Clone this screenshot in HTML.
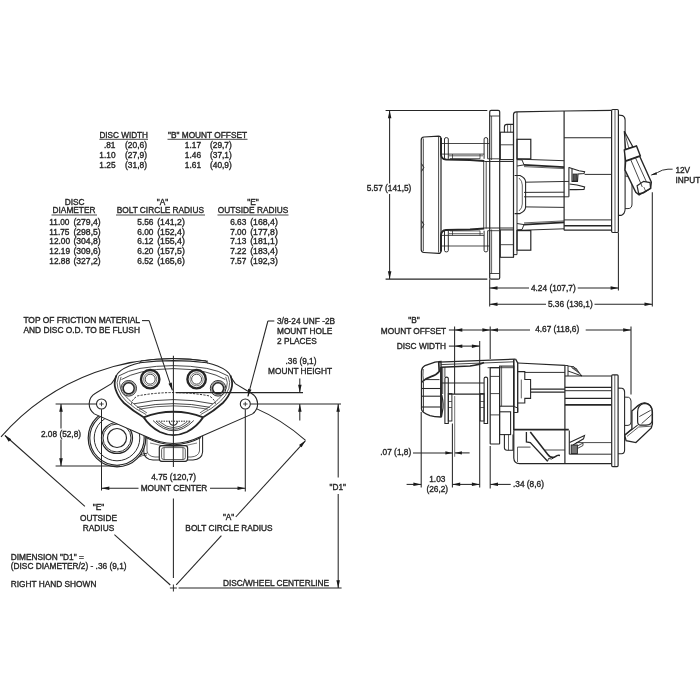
<!DOCTYPE html>
<html><head><meta charset="utf-8"><title>Caliper Drawing</title>
<style>
html,body{margin:0;padding:0;background:#fff;}
body{width:700px;height:700px;overflow:hidden;}
svg{display:block;will-change:transform;opacity:0.999;}
svg text{font-family:"Liberation Sans",sans-serif;font-size:8.3px;fill:#262626;stroke:#262626;stroke-width:0.35px;}
svg .ah{fill:#1a1a1a;stroke:none;}
</style></head><body>
<svg width="700" height="700" viewBox="0 0 700 700">
<g fill="none" stroke="#262626" stroke-width="1.05">
<text x="99.4" y="137.7" textLength="48.6" lengthAdjust="spacingAndGlyphs">DISC WIDTH</text>
<line x1="99.4" y1="139.3" x2="148.0" y2="139.3" stroke-width="0.84"/>
<text x="168.0" y="137.7">&quot;B&quot; MOUNT OFFSET</text>
<line x1="167.5" y1="139.3" x2="247.5" y2="139.3" stroke-width="0.84"/>
<text x="115.5" y="148.4" text-anchor="end">.81</text>
<text x="125.0" y="148.4" textLength="22.0" lengthAdjust="spacingAndGlyphs">(20,6)</text>
<text x="201.0" y="148.4" text-anchor="end">1.17</text>
<text x="210.0" y="148.4" textLength="21.8" lengthAdjust="spacingAndGlyphs">(29,7)</text>
<text x="115.5" y="158.1" text-anchor="end">1.10</text>
<text x="125.0" y="158.1" textLength="22.0" lengthAdjust="spacingAndGlyphs">(27,9)</text>
<text x="201.0" y="158.1" text-anchor="end">1.46</text>
<text x="210.0" y="158.1" textLength="21.8" lengthAdjust="spacingAndGlyphs">(37,1)</text>
<text x="115.5" y="167.8" text-anchor="end">1.25</text>
<text x="125.0" y="167.8" textLength="22.0" lengthAdjust="spacingAndGlyphs">(31,8)</text>
<text x="201.0" y="167.8" text-anchor="end">1.61</text>
<text x="210.0" y="167.8" textLength="21.8" lengthAdjust="spacingAndGlyphs">(40,9)</text>
<text x="74.6" y="205.0" text-anchor="middle">DISC</text>
<text x="74.0" y="213.3" text-anchor="middle">DIAMETER</text>
<line x1="51.5" y1="215.0" x2="97.0" y2="215.0" stroke-width="0.84"/>
<text x="162.5" y="205.0" text-anchor="middle">&quot;A&quot;</text>
<text x="160.3" y="213.3" text-anchor="middle">BOLT CIRCLE RADIUS</text>
<line x1="116.0" y1="215.0" x2="205.0" y2="215.0" stroke-width="0.84"/>
<text x="253.0" y="205.0" text-anchor="middle">&quot;E&quot;</text>
<text x="253.0" y="213.3" text-anchor="middle">OUTSIDE RADIUS</text>
<line x1="217.5" y1="215.0" x2="288.5" y2="215.0" stroke-width="0.84"/>
<text x="49.3" y="224.8">11.00</text>
<text x="73.4" y="224.8" textLength="27.3" lengthAdjust="spacingAndGlyphs">(279,4)</text>
<text x="137.3" y="224.8">5.56</text>
<text x="157.2" y="224.8" textLength="27.6" lengthAdjust="spacingAndGlyphs">(141,2)</text>
<text x="230.2" y="224.8">6.63</text>
<text x="250.2" y="224.8" textLength="27.6" lengthAdjust="spacingAndGlyphs">(168,4)</text>
<text x="49.3" y="234.5">11.75</text>
<text x="73.4" y="234.5" textLength="27.3" lengthAdjust="spacingAndGlyphs">(298,5)</text>
<text x="137.3" y="234.5">6.00</text>
<text x="157.2" y="234.5" textLength="27.6" lengthAdjust="spacingAndGlyphs">(152,4)</text>
<text x="230.2" y="234.5">7.00</text>
<text x="250.2" y="234.5" textLength="27.6" lengthAdjust="spacingAndGlyphs">(177,8)</text>
<text x="49.3" y="244.2">12.00</text>
<text x="73.4" y="244.2" textLength="27.3" lengthAdjust="spacingAndGlyphs">(304,8)</text>
<text x="137.3" y="244.2">6.12</text>
<text x="157.2" y="244.2" textLength="27.6" lengthAdjust="spacingAndGlyphs">(155,4)</text>
<text x="230.2" y="244.2">7.13</text>
<text x="250.2" y="244.2" textLength="27.6" lengthAdjust="spacingAndGlyphs">(181,1)</text>
<text x="49.3" y="254.0">12.19</text>
<text x="73.4" y="254.0" textLength="27.3" lengthAdjust="spacingAndGlyphs">(309,6)</text>
<text x="137.3" y="254.0">6.20</text>
<text x="157.2" y="254.0" textLength="27.6" lengthAdjust="spacingAndGlyphs">(157,5)</text>
<text x="230.2" y="254.0">7.22</text>
<text x="250.2" y="254.0" textLength="27.6" lengthAdjust="spacingAndGlyphs">(183,4)</text>
<text x="49.3" y="263.7">12.88</text>
<text x="73.4" y="263.7" textLength="27.3" lengthAdjust="spacingAndGlyphs">(327,2)</text>
<text x="137.3" y="263.7">6.52</text>
<text x="157.2" y="263.7" textLength="27.6" lengthAdjust="spacingAndGlyphs">(165,6)</text>
<text x="230.2" y="263.7">7.57</text>
<text x="250.2" y="263.7" textLength="27.6" lengthAdjust="spacingAndGlyphs">(192,3)</text>
<text x="23.4" y="323.4" textLength="116.6" lengthAdjust="spacingAndGlyphs">TOP OF FRICTION MATERIAL</text>
<text x="23.4" y="332.9" textLength="116.6" lengthAdjust="spacingAndGlyphs">AND DISC O.D. TO BE FLUSH</text>
<text x="277.0" y="324.0">3/8-24 UNF -2B</text>
<text x="277.0" y="333.8">MOUNT HOLE</text>
<text x="277.0" y="343.8">2 PLACES</text>
<text x="301.0" y="364.0" text-anchor="middle">.36 (9,1)</text>
<text x="300.0" y="373.8" text-anchor="middle">MOUNT HEIGHT</text>
<text x="61.0" y="437.0" text-anchor="middle">2.08 (52,8)</text>
<text x="173.6" y="480.0" text-anchor="middle">4.75 (120,7)</text>
<text x="174.0" y="490.8" text-anchor="middle">MOUNT CENTER</text>
<text x="98.5" y="510.0" text-anchor="middle">&quot;E&quot;</text>
<text x="98.5" y="520.8" text-anchor="middle">OUTSIDE</text>
<text x="98.5" y="530.7" text-anchor="middle">RADIUS</text>
<text x="228.6" y="519.5" text-anchor="middle">&quot;A&quot;</text>
<text x="229.0" y="530.6" text-anchor="middle">BOLT CIRCLE RADIUS</text>
<text x="10.8" y="559.5">DIMENSION &quot;D1&quot; =</text>
<text x="10.8" y="568.9">(DISC DIAMETER/2) - .36 (9,1)</text>
<text x="10.8" y="586.8">RIGHT HAND SHOWN</text>
<text x="222.9" y="585.7">DISC/WHEEL CENTERLINE</text>
<text x="337.8" y="490.0" text-anchor="middle">&quot;D1&quot;</text>
<text x="389.0" y="191.0" text-anchor="middle">5.57 (141,5)</text>
<text x="553.3" y="290.9" text-anchor="middle">4.24 (107,7)</text>
<text x="570.3" y="307.1" text-anchor="middle">5.36 (136,1)</text>
<text x="675.4" y="173.3">12V</text>
<text x="675.4" y="182.8">INPUT</text>
<text x="414.0" y="322.6" text-anchor="middle">&quot;B&quot;</text>
<text x="446.1" y="333.5" text-anchor="end">MOUNT OFFSET</text>
<text x="446.1" y="349.3" text-anchor="end">DISC WIDTH</text>
<text x="557.2" y="332.2" text-anchor="middle">4.67 (118,6)</text>
<text x="411.2" y="455.3" text-anchor="end">.07 (1,8)</text>
<text x="437.3" y="482.2" text-anchor="middle">1.03</text>
<text x="437.3" y="492.2" text-anchor="middle">(26,2)</text>
<text x="513.0" y="486.8">.34 (8,6)</text>
<path d="M1,436.9 A228.9,228.9 0 0 1 208,361.2"/>
<path d="M245.3,404 A197.0,197.0 0 0 1 305.6,440.4"/>
<path d="M143.8,430 L143.8,452 Q144.5,459.5 153,460 L193,460 Q202,459.5 202.6,452 L202.6,430 Z" fill="#fff"/>
<path d="M147,436 L147,451 Q148,456.5 155,457 L191,457 Q198.5,456.5 199.5,451 L199.5,436" stroke-width="0.72"/>
<rect x="159.3" y="445.6" width="28.3" height="15.7" rx="2.5" stroke-width="1.20" fill="#fff"/>
<rect x="161.6" y="447.6" width="23.7" height="11.9" rx="2" stroke-width="0.72"/>
<line x1="164.0" y1="447.6" x2="164.0" y2="459.5" stroke-width="0.72"/>
<line x1="183.0" y1="447.6" x2="183.0" y2="459.5" stroke-width="0.72"/>
<path d="M146,437.5 Q173.4,452 201,437.5" stroke-width="1.08"/>
<path d="M150,443 Q173.4,450 197,443" stroke-width="0.60"/>
<circle cx="117.0" cy="438.0" r="28.8" stroke-width="1.20" fill="#fff"/>
<circle cx="117.0" cy="438.0" r="27.2" stroke-width="1.08"/>
<circle cx="117.0" cy="438.0" r="22.8" stroke-width="0.96"/>
<circle cx="117.0" cy="438.0" r="15.5" stroke-width="1.20"/>
<circle cx="117.0" cy="438.0" r="14.0" stroke-width="0.96"/>
<circle cx="117.0" cy="438.0" r="9.5" stroke-width="1.20"/>
<path d="M139.5,455.6 Q142,453.6 147,453.2" stroke-width="0.96"/>
<path d="M138.5,457.2 Q142,455.2 147,455" stroke-width="0.72"/>
<path d="M173.4,360.6 Q156,360.7 140,362.8 Q128,365.6 121,370.4 Q116.6,373.6 115.7,377.5 L111.5,383.6 L95.5,393.2 A12.3,12.3 0 0 0 94.3,413.9 L147.1,437.1 Q173.4,450 199.7,437.1 L252.5,413.9 A12.3,12.3 0 0 0 251.3,393.2 L235.3,383.6 L231.1,377.5 Q230.2,373.6 225.8,370.4 Q218.8,365.6 206.8,362.8 Q190.8,360.7 173.4,360.6 Z" stroke-width="1.08" fill="#fff"/>
<path d="M139.7,363.3 L141,360.9 A228.9,228.9 0 0 1 206,360.9 L207.5,363.4" stroke-width="0.96"/>
<path d="M116.3,375.5 Q113.5,383 115.5,389 Q118.0,397 124.0,403 Q133.0,411 143.6,417.3" stroke-width="1.80"/>
<path d="M230.5,375.5 Q233.3,383 231.3,389 Q228.8,397 222.8,403 Q213.8,411 203.2,417.3" stroke-width="1.80"/>
<path d="M143.6,417.3 Q158,411.8 173.4,411.8 Q189,411.8 203.2,417.3" stroke-width="1.92"/>
<path d="M143.6,417.3 Q150,427 160,432 Q173.4,438.2 186.8,432 Q196.8,427 203.2,417.3" stroke-width="1.92"/>
<path d="M118.7,376.2 Q115.9,383 117.9,388.3 Q120.4,395.8 126.4,401.3 Q134.9,409.1 146.2,414.6" stroke-width="0.72"/>
<path d="M228.1,376.2 Q230.9,383 228.9,388.3 Q226.4,395.8 220.4,401.3 Q211.9,409.1 200.6,414.6" stroke-width="0.72"/>
<path d="M121.1,376.9 Q118.3,383 120.3,387.6 Q122.8,394.6 128.8,399.6 Q136.8,407.2 146.9,412.9" stroke-width="0.72"/>
<path d="M225.7,376.9 Q228.5,383 226.5,387.6 Q224.0,394.6 218.0,399.6 Q210.0,407.2 199.9,412.9" stroke-width="0.72"/>
<path d="M118.6,376 Q128,370.5 140,368.4 Q156,365.7 173.4,365.6 Q190.8,365.7 206.8,368.4 Q218.8,370.5 228.2,376" stroke-width="0.84"/>
<path d="M121.5,379.5 Q130,374.6 141.4,372 Q156,368.7 173.4,368.6 Q190.8,368.7 205.4,372 Q216.8,374.6 225.3,379.5" stroke-width="0.84"/>
<path d="M131.6,404.5 Q131,400.2 137.5,395.9 A194.9,194.9 0 0 1 209.3,395.9 Q215.8,400.2 215.2,404.5" stroke-width="0.96" stroke-dasharray="2.2 1.3"/>
<path d="M134,403.8 A188.2,188.2 0 0 1 212.8,403.8" stroke-width="0.84"/>
<path d="M137,407.3 A184.1,184.1 0 0 1 209.8,407.3" stroke-width="0.84"/>
<path d="M139,409.2 A181.9,181.9 0 0 1 207.8,409.2" stroke-width="0.72"/>
<path d="M156,421.2 L190.8,421.2" stroke-width="0.96" stroke-dasharray="1.5 1"/>
<path d="M153,420.5 Q173.4,441 193.8,420.5" stroke-width="0.84"/>
<path d="M156.5,421.5 Q173.4,437 190.3,421.5" stroke-width="0.84"/>
<path d="M160,422 Q173.4,433.3 186.8,422" stroke-width="0.72"/>
<path d="M169.4,421.2 A4,4 0 0 0 177.4,421.2" stroke-width="1.08"/>
<circle cx="128.7" cy="388.3" r="7.8" stroke-width="0.96" fill="#fff"/>
<circle cx="128.7" cy="388.3" r="5.5" stroke-width="1.44"/>
<circle cx="128.7" cy="388.3" r="6.6" stroke-width="0.60"/>
<circle cx="218.1" cy="388.3" r="7.8" stroke-width="0.96" fill="#fff"/>
<circle cx="218.1" cy="388.3" r="5.5" stroke-width="1.44"/>
<circle cx="218.1" cy="388.3" r="6.6" stroke-width="0.60"/>
<circle cx="150.2" cy="379.2" r="9.2" stroke-width="2.40" fill="#fff"/>
<circle cx="150.2" cy="379.2" r="5.0" stroke-width="0.84"/>
<circle cx="150.2" cy="379.2" r="6.6" stroke-width="0.60"/>
<circle cx="196.6" cy="379.2" r="9.2" stroke-width="2.40" fill="#fff"/>
<circle cx="196.6" cy="379.2" r="5.0" stroke-width="0.84"/>
<circle cx="196.6" cy="379.2" r="6.6" stroke-width="0.60"/>
<circle cx="101.5" cy="404.0" r="5.0" stroke-width="1.08" fill="#fff"/>
<line x1="99.3" y1="404.0" x2="103.7" y2="404.0" stroke-width="0.84"/>
<line x1="101.5" y1="401.8" x2="101.5" y2="406.2" stroke-width="0.84"/>
<circle cx="245.3" cy="404.0" r="5.0" stroke-width="1.08" fill="#fff"/>
<line x1="243.1" y1="404.0" x2="247.5" y2="404.0" stroke-width="0.84"/>
<line x1="245.3" y1="401.8" x2="245.3" y2="406.2" stroke-width="0.84"/>
<line x1="173.4" y1="355.7" x2="173.4" y2="467.0"/>
<line x1="173.4" y1="498.5" x2="173.4" y2="578.0"/>
<line x1="169.9" y1="588.0" x2="176.9" y2="588.0" stroke-width="0.96"/>
<line x1="173.4" y1="584.5" x2="173.4" y2="591.5" stroke-width="0.96"/>
<line x1="178.6" y1="588.0" x2="341.6" y2="588.0"/>
<line x1="338.2" y1="404.0" x2="338.2" y2="477.5"/>
<line x1="338.2" y1="494.0" x2="338.2" y2="588.0"/>
<polygon class="ah" points="338.2,404.0 339.9,411.8 336.4,411.8"/>
<polygon class="ah" points="338.2,588.0 336.4,580.2 339.9,580.2"/>
<line x1="250.5" y1="404.0" x2="341.0" y2="404.0"/>
<line x1="176.0" y1="392.6" x2="303.0" y2="392.6"/>
<line x1="299.8" y1="378.4" x2="299.8" y2="392.6"/>
<polygon class="ah" points="299.8,392.6 298.1,384.8 301.6,384.8"/>
<line x1="299.8" y1="404.0" x2="299.8" y2="420.5"/>
<polygon class="ah" points="299.8,404.0 301.6,411.8 298.1,411.8"/>
<line x1="55.6" y1="404.0" x2="96.3" y2="404.0"/>
<line x1="55.6" y1="466.0" x2="120.0" y2="466.0"/>
<line x1="61.0" y1="404.0" x2="61.0" y2="428.5"/>
<line x1="61.0" y1="439.5" x2="61.0" y2="466.0"/>
<polygon class="ah" points="61.0,404.0 62.8,411.8 59.2,411.8"/>
<polygon class="ah" points="61.0,466.0 59.2,458.2 62.8,458.2"/>
<line x1="101.5" y1="409.2" x2="101.5" y2="490.5"/>
<line x1="245.3" y1="409.2" x2="245.3" y2="491.5"/>
<line x1="101.5" y1="488.2" x2="138.5" y2="488.2"/>
<line x1="210.0" y1="488.2" x2="245.3" y2="488.2"/>
<polygon class="ah" points="101.5,488.2 109.3,486.4 109.3,489.9"/>
<polygon class="ah" points="245.3,488.2 237.5,489.9 237.5,486.4"/>
<line x1="5.0" y1="435.5" x2="84.9" y2="506.3"/>
<line x1="114.4" y1="534.6" x2="170.3" y2="585.0"/>
<polygon class="ah" points="4.5,435.0 11.2,439.3 8.7,441.8"/>
<line x1="176.2" y1="584.8" x2="221.4" y2="535.7"/>
<line x1="235.7" y1="517.0" x2="305.3" y2="440.8"/>
<polygon class="ah" points="305.6,440.4 301.6,447.3 299.0,445.0"/>
<line x1="142.0" y1="320.6" x2="149.1" y2="320.6"/>
<line x1="149.1" y1="320.6" x2="172.4" y2="390.3"/>
<polygon class="ah" points="172.5,390.6 168.5,383.7 171.8,382.6"/>
<line x1="274.3" y1="321.0" x2="267.9" y2="321.0"/>
<line x1="267.9" y1="321.0" x2="247.9" y2="396.3"/>
<polygon class="ah" points="247.8,396.8 248.1,388.8 251.5,389.7"/>
<line x1="385.6" y1="110.4" x2="487.3" y2="110.4"/>
<line x1="385.6" y1="279.1" x2="487.3" y2="279.1"/>
<line x1="389.6" y1="110.4" x2="389.6" y2="183.5"/>
<line x1="389.6" y1="194.0" x2="389.6" y2="279.1"/>
<polygon class="ah" points="389.6,110.4 391.4,118.2 387.9,118.2"/>
<polygon class="ah" points="389.6,279.1 387.9,271.3 391.4,271.3"/>
<rect x="489.7" y="110.3" width="10.0" height="168.9" rx="1.5" stroke-width="1.20" fill="#fff"/>
<line x1="489.7" y1="116.0" x2="499.7" y2="116.0" stroke-width="0.84"/>
<line x1="491.6" y1="116.0" x2="491.6" y2="160.0" stroke-width="0.72"/>
<line x1="489.7" y1="273.5" x2="499.7" y2="273.5" stroke-width="0.84"/>
<line x1="491.6" y1="273.5" x2="491.6" y2="229.5" stroke-width="0.72"/>
<path d="M421.2,140 Q421.2,137.2 424,137 L438.5,136.1 Q441,136.1 441,138.6 L441,250.9 Q441,253.4 438.5,253.4 L424,252.5 Q421.2,252.3 421.2,249.5 Z" stroke-width="1.20" fill="#fff"/>
<line x1="423.3" y1="138.5" x2="423.3" y2="251.0" stroke-width="0.84"/>
<line x1="438.6" y1="137.0" x2="438.6" y2="252.5" stroke-width="0.84"/>
<path d="M421.5,163.5 L423.8,167.5 L421.5,171.5" stroke-width="0.96"/>
<path d="M421.5,220.7 L423.8,224.7 L421.5,228.7" stroke-width="0.96"/>
<path d="M444.5,158.8 L444.5,139 Q444.5,137.6 446.4,137.6 Q448.3,137.6 448.3,139 L448.3,158.8" stroke-width="0.96"/>
<path d="M484.1,158.8 L484.1,139 Q484.1,137.6 485.9,137.6 Q487.7,137.6 487.7,139 L487.7,158.8" stroke-width="0.96"/>
<line x1="441.0" y1="143.5" x2="489.7" y2="143.5" stroke-width="0.84"/>
<line x1="441.0" y1="154.1" x2="484.1" y2="154.1" stroke-width="0.84"/>
<line x1="449.0" y1="155.8" x2="483.0" y2="155.8" stroke-width="0.72"/>
<line x1="452.5" y1="154.1" x2="452.5" y2="158.8" stroke-width="0.72"/>
<line x1="480.0" y1="154.1" x2="480.0" y2="158.8" stroke-width="0.72"/>
<line x1="450.0" y1="158.6" x2="480.0" y2="158.6" stroke-width="0.72"/>
<path d="M441,138 L441,154.5 Q441.3,159.2 446,159.5 L470,160 L484.3,161" stroke-width="1.92"/>
<line x1="484.3" y1="161.5" x2="514.0" y2="161.5" stroke-width="0.96"/>
<line x1="487.7" y1="158.8" x2="499.7" y2="158.8" stroke-width="0.84"/>
<rect x="500.3" y="132.2" width="13.2" height="27.4" rx="0" stroke-width="1.08"/>
<line x1="500.3" y1="144.8" x2="513.5" y2="144.8" stroke-width="0.84"/>
<rect x="517.0" y="139.3" width="13.8" height="19.6" rx="0" stroke-width="1.20"/>
<line x1="517.0" y1="159.1" x2="564.1" y2="160.7" stroke-width="0.96"/>
<path d="M517,159.7 L522,159.9 L524,164.9 L517,166" stroke-width="0.96"/>
<line x1="524.0" y1="164.9" x2="564.1" y2="167.1" stroke-width="1.92"/>
<line x1="524.0" y1="166.6" x2="564.1" y2="168.6" stroke-width="0.72"/>
<path d="M444.5,230.7 L444.5,250.5 Q444.5,251.9 446.4,251.9 Q448.3,251.9 448.3,250.5 L448.3,230.7" stroke-width="0.96"/>
<path d="M484.1,230.7 L484.1,250.5 Q484.1,251.9 485.9,251.9 Q487.7,251.9 487.7,250.5 L487.7,230.7" stroke-width="0.96"/>
<line x1="441.0" y1="246.0" x2="489.7" y2="246.0" stroke-width="0.84"/>
<line x1="441.0" y1="235.4" x2="484.1" y2="235.4" stroke-width="0.84"/>
<line x1="449.0" y1="233.7" x2="483.0" y2="233.7" stroke-width="0.72"/>
<line x1="452.5" y1="235.4" x2="452.5" y2="230.7" stroke-width="0.72"/>
<line x1="480.0" y1="235.4" x2="480.0" y2="230.7" stroke-width="0.72"/>
<line x1="450.0" y1="230.9" x2="480.0" y2="230.9" stroke-width="0.72"/>
<path d="M441,251.5 L441,235.0 Q441.3,230.3 446,230.0 L470,229.5 L484.3,228.5" stroke-width="1.92"/>
<line x1="484.3" y1="228.0" x2="514.0" y2="228.0" stroke-width="0.96"/>
<line x1="487.7" y1="230.7" x2="499.7" y2="230.7" stroke-width="0.84"/>
<rect x="500.3" y="229.9" width="13.2" height="27.4" rx="0" stroke-width="1.08"/>
<line x1="500.3" y1="244.7" x2="513.5" y2="244.7" stroke-width="0.84"/>
<rect x="517.0" y="230.6" width="13.8" height="19.6" rx="0" stroke-width="1.20"/>
<line x1="517.0" y1="230.4" x2="564.1" y2="228.8" stroke-width="0.96"/>
<path d="M517,229.8 L522,229.6 L524,224.6 L517,223.5" stroke-width="0.96"/>
<line x1="524.0" y1="224.6" x2="564.1" y2="222.4" stroke-width="1.92"/>
<line x1="524.0" y1="222.9" x2="564.1" y2="220.9" stroke-width="0.72"/>
<path d="M504.4,132.2 L504.4,127 Q504.4,124.4 507,124.4 L513.5,124.4" stroke-width="1.08"/>
<line x1="507.6" y1="125.0" x2="507.6" y2="132.2" stroke-width="0.72"/>
<line x1="510.7" y1="124.4" x2="510.7" y2="132.2" stroke-width="0.72"/>
<line x1="483.7" y1="161.0" x2="483.7" y2="228.5" stroke-width="0.84"/>
<line x1="486.2" y1="161.0" x2="486.2" y2="228.5" stroke-width="0.84"/>
<path d="M513.5,257 L513.5,114.5 Q513.7,111.9 516.5,111.8 L564.1,111 L611.6,110.4" stroke-width="1.20"/>
<line x1="517.0" y1="112.0" x2="517.0" y2="254.6" stroke-width="0.96"/>
<line x1="513.5" y1="254.6" x2="517.0" y2="254.6" stroke-width="0.96"/>
<line x1="564.1" y1="111.0" x2="564.1" y2="230.3" stroke-width="1.20"/>
<line x1="564.1" y1="137.7" x2="611.6" y2="137.7" stroke-width="1.08"/>
<line x1="584.6" y1="174.4" x2="611.6" y2="174.4" stroke-width="0.96"/>
<line x1="564.1" y1="219.9" x2="611.6" y2="219.9" stroke-width="0.96"/>
<line x1="564.1" y1="225.8" x2="611.6" y2="225.8" stroke-width="1.56"/>
<line x1="564.1" y1="230.2" x2="618.4" y2="230.2" stroke-width="1.20"/>
<path d="M514.6,175.5 L520,175.5 Q525.6,178 525.6,182 L525.6,207 Q525.6,211 520,213.6 L514.6,213.6" stroke-width="1.08"/>
<path d="M519,178 Q522.3,181 522.3,185 L522.3,204 Q522.3,208 519,211" stroke-width="0.72"/>
<line x1="525.6" y1="182.2" x2="568.9" y2="181.4" stroke-width="0.96"/>
<line x1="524.0" y1="192.4" x2="564.1" y2="192.2" stroke-width="0.96"/>
<line x1="524.0" y1="196.8" x2="568.9" y2="196.8" stroke-width="0.96"/>
<line x1="525.6" y1="206.9" x2="564.1" y2="207.4" stroke-width="0.96"/>
<line x1="568.9" y1="167.3" x2="568.9" y2="196.8" stroke-width="1.08"/>
<path d="M568.9,167.5 L572,168.5 L579,170.8 L584.6,171.6 L584,173.6 L578,174 L577.5,181.4 L572,181.4 L572,169" stroke-width="1.08"/>
<rect x="573.0" y="174.0" width="4.0" height="7.0" rx="0" stroke-width="0.72" fill="#555"/>
<path d="M569.5,184 L577,185 L584.6,187 L584,189.4 L576,189.6 L569.5,189.6" stroke-width="1.08"/>
<rect x="611.6" y="109.5" width="6.8" height="123.0" rx="1.2" stroke-width="1.20" fill="#fff"/>
<line x1="615.0" y1="110.0" x2="615.0" y2="232.0" stroke-width="0.72"/>
<path d="M618.4,115 L622.5,115.6 Q625.1,117 625.1,120 L625.1,209 Q625.1,214 621,215.4 L618.4,215.4" stroke-width="1.08"/>
<path d="M625.1,176 L629.5,176.5 Q632,178 632,181 L632,204 Q632,208.6 628,208.6 L625.1,208.6" stroke-width="0.96"/>
<path d="M624.3,131.2 L625.6,149.5 L632.8,146.8 Z" stroke-width="1.20" fill="#fff"/>
<path d="M624.3,131.2 L628.8,148" stroke-width="0.72"/>
<path d="M624.3,150 L636.5,146 L640.3,155.8 L625.6,161 Z" stroke-width="1.44" fill="#fff"/>
<path d="M625.6,161.4 L639.7,156.3 L651.3,182 L650.6,188.4 L639.1,194.8 L635.8,192.3 L625,170 Z" stroke-width="1.44" fill="#fff"/>
<path d="M630.7,159.6 L642.3,187" stroke-width="0.84"/>
<path d="M635.5,157.9 L646.5,182" stroke-width="0.84"/>
<path d="M637.1,185.8 L643.6,181.3 L650,182.6 L650.6,188.4 L643.6,192.9 L638.7,193.5 Z" stroke-width="1.20"/>
<line x1="643.8" y1="187.0" x2="646.0" y2="192.0" stroke-width="0.72"/>
<path d="M672.6,169.2 L668,169.2 Q662,169.5 657.5,172.5 L651.5,175" stroke-width="0.96"/>
<polygon class="ah" points="650.5,175.3 656.3,172.2 657.1,174.6"/>
<line x1="489.7" y1="279.2" x2="489.7" y2="306.6"/>
<line x1="618.4" y1="232.5" x2="618.4" y2="290.6"/>
<line x1="652.3" y1="192.3" x2="652.3" y2="306.6"/>
<line x1="489.7" y1="288.0" x2="529.0" y2="288.0"/>
<line x1="577.7" y1="288.0" x2="618.4" y2="288.0"/>
<polygon class="ah" points="489.7,288.0 497.5,286.2 497.5,289.8"/>
<polygon class="ah" points="618.4,288.0 610.6,289.8 610.6,286.2"/>
<line x1="489.7" y1="304.3" x2="546.0" y2="304.3"/>
<line x1="594.5" y1="304.3" x2="652.3" y2="304.3"/>
<polygon class="ah" points="489.7,304.3 497.5,302.6 497.5,306.1"/>
<polygon class="ah" points="652.3,304.3 644.5,306.1 644.5,302.6"/>
<path d="M421.5,409 L421.5,371 Q421.7,367.5 425,365.5 L435,362.2 Q437,361.6 438.5,361.6 L441,361.5 L441,417 Q434,416.8 430,415.6 Q421.5,412.5 421.5,409 Z" stroke-width="1.32" fill="#fff"/>
<path d="M438.7,361.6 L439.2,371.5 Q436.5,375 431,376.6 Q425,378.6 421.7,382.2" stroke-width="1.68"/>
<path d="M423.3,369 Q422.6,376 423.5,380" stroke-width="0.72"/>
<line x1="425.0" y1="379.6" x2="439.5" y2="379.6" stroke-width="0.96"/>
<line x1="421.5" y1="388.5" x2="441.0" y2="388.5" stroke-width="1.08"/>
<line x1="421.5" y1="396.2" x2="441.0" y2="396.2" stroke-width="1.08"/>
<line x1="421.5" y1="407.0" x2="441.0" y2="407.0" stroke-width="1.08"/>
<line x1="423.5" y1="382.0" x2="423.5" y2="411.5" stroke-width="0.84"/>
<path d="M438.6,362.2 L515.6,359.1" stroke-width="1.20"/>
<path d="M441,367.3 L470,366 Q480,364.5 484,362.5" stroke-width="1.56"/>
<line x1="441.0" y1="364.6" x2="514.0" y2="361.8" stroke-width="0.84"/>
<line x1="441.0" y1="367.0" x2="441.0" y2="416.4" stroke-width="1.80"/>
<line x1="444.9" y1="367.0" x2="444.9" y2="377.1" stroke-width="0.84"/>
<path d="M444.9,423.5 L444.9,378.6 Q444.9,377.1 446.6,377.1 Q448.3,377.1 448.3,378.6 L448.3,423.5 Z" stroke-width="1.08" fill="#fff"/>
<path d="M484.1,423.5 L484.1,378.6 Q484.1,377.1 485.9,377.1 Q487.6,377.1 487.6,378.6 L487.6,423.5 Z" stroke-width="1.08" fill="#fff"/>
<rect x="448.3" y="393.6" width="3.6" height="27.4" rx="0" stroke-width="0.96"/>
<rect x="480.2" y="393.6" width="3.9" height="27.4" rx="0" stroke-width="0.96"/>
<line x1="448.3" y1="401.5" x2="451.9" y2="401.5" stroke-width="0.72"/>
<line x1="480.2" y1="401.5" x2="484.1" y2="401.5" stroke-width="0.72"/>
<line x1="448.3" y1="407.5" x2="451.9" y2="407.5" stroke-width="0.72"/>
<line x1="480.2" y1="407.5" x2="484.1" y2="407.5" stroke-width="0.72"/>
<line x1="441.0" y1="383.0" x2="484.1" y2="383.0" stroke-width="1.20"/>
<line x1="448.3" y1="394.2" x2="484.1" y2="394.2" stroke-width="1.32"/>
<path d="M441.8,395 Q444,405 442.5,411 L441.5,417" stroke-width="1.20"/>
<line x1="442.7" y1="367.0" x2="442.7" y2="394.0" stroke-width="0.84"/>
<rect x="490.2" y="367.7" width="9.4" height="76.3" rx="0.5" stroke-width="1.20"/>
<line x1="490.2" y1="376.4" x2="499.6" y2="376.4" stroke-width="0.84"/>
<line x1="490.2" y1="393.6" x2="499.6" y2="393.6" stroke-width="0.84"/>
<line x1="490.2" y1="414.9" x2="499.6" y2="414.9" stroke-width="0.84"/>
<line x1="487.6" y1="367.7" x2="514.0" y2="367.7" stroke-width="0.84"/>
<rect x="499.6" y="366.1" width="14.2" height="40.1" rx="0" stroke-width="1.08"/>
<line x1="501.6" y1="366.1" x2="501.6" y2="406.2" stroke-width="0.72"/>
<rect x="499.6" y="411.8" width="11.0" height="22.8" rx="0" stroke-width="1.08"/>
<line x1="499.6" y1="406.2" x2="499.6" y2="411.8" stroke-width="0.96"/>
<path d="M504.4,434.6 L504.4,448 Q504.6,450.3 507,450.3 L513,450.3 L513,434.6" stroke-width="1.08"/>
<line x1="508.5" y1="434.6" x2="508.5" y2="450.3" stroke-width="0.72"/>
<path d="M515.6,359.1 L517.7,363 L517.7,412.5" stroke-width="1.32"/>
<line x1="513.8" y1="359.3" x2="513.8" y2="430.6" stroke-width="1.56"/>
<path d="M514,406.5 L517.7,408 L517.7,412.5 L514,412.5" stroke-width="0.96"/>
<path d="M517.7,363 L564.9,365.4" stroke-width="1.20"/>
<line x1="564.9" y1="365.4" x2="564.9" y2="463.6" stroke-width="1.20"/>
<path d="M517.7,371.6 L524.8,371.6 L524.8,379.5 L530.6,379.5 L530.6,398.4 L524.8,398.4 L524.8,403 L517.7,403" stroke-width="1.08"/>
<line x1="521.3" y1="379.5" x2="521.3" y2="398.4" stroke-width="0.72"/>
<line x1="524.8" y1="372.4" x2="564.9" y2="372.4" stroke-width="0.96"/>
<line x1="530.6" y1="389.2" x2="564.9" y2="389.2" stroke-width="1.20"/>
<line x1="530.6" y1="392.1" x2="564.9" y2="392.1" stroke-width="1.20"/>
<path d="M513.8,430.6 L513.8,458 Q514,463.4 519.5,463.6 L611.7,463.6" stroke-width="1.20"/>
<line x1="513.8" y1="429.6" x2="568.8" y2="429.6" stroke-width="1.80"/>
<line x1="517.5" y1="447.1" x2="530.5" y2="447.1" stroke-width="0.84"/>
<line x1="517.5" y1="447.1" x2="517.5" y2="462.0" stroke-width="0.72"/>
<line x1="545.0" y1="450.0" x2="564.9" y2="450.0" stroke-width="0.84"/>
<path d="M526.4,432 L526.4,442 L530.3,442.5 L547.6,461.3" stroke-width="1.32"/>
<path d="M530.3,432 L547.6,454.2 Q551,459 555.4,456.6 Q557,455 560,455.4" stroke-width="1.56"/>
<path d="M547.6,461.3 L548.5,458.5 Q551.5,460.5 555.4,456.6" stroke-width="0.96"/>
<line x1="569.3" y1="430.6" x2="569.3" y2="454.2" stroke-width="1.08"/>
<path d="M569.6,442.4 L584.5,435.6 L583.5,438.8 L573,445" stroke-width="1.08"/>
<rect x="571.2" y="445.0" width="6.2" height="8.6" rx="0" stroke-width="0.96" fill="#777"/>
<path d="M577.4,446 L583,443 L583,445.5 L577.4,448.5" stroke-width="0.84"/>
<line x1="569.3" y1="454.2" x2="611.7" y2="454.2" stroke-width="0.96"/>
<line x1="576.0" y1="442.6" x2="611.7" y2="442.6" stroke-width="0.84"/>
<line x1="564.9" y1="376.0" x2="611.7" y2="376.0" stroke-width="1.20"/>
<path d="M564.9,365.4 L568,365.6 L568,376" stroke-width="0.96"/>
<path d="M568,366 L574,366.8 L582,376 L568,371" stroke-width="0.96"/>
<path d="M571.5,367.5 L576.5,368.5 L579.5,373.5 Z" stroke-width="0.60" fill="#666"/>
<line x1="564.9" y1="387.4" x2="611.7" y2="387.4" stroke-width="1.44"/>
<line x1="564.9" y1="390.7" x2="611.7" y2="390.7" stroke-width="0.96"/>
<line x1="564.9" y1="398.3" x2="611.7" y2="398.3" stroke-width="1.20"/>
<line x1="564.9" y1="404.9" x2="611.7" y2="404.9" stroke-width="1.56"/>
<rect x="611.7" y="374.8" width="6.4" height="91.8" rx="1" stroke-width="1.20" fill="#fff"/>
<line x1="614.8" y1="375.0" x2="614.8" y2="466.4" stroke-width="0.72"/>
<path d="M618.1,388.1 L622,388.3 Q624.6,389 624.6,392 L624.6,450 Q624.6,453.7 621.5,453.7 L618.1,453.7" stroke-width="1.08"/>
<path d="M624.6,397.1 L628.5,397.3 Q631,398 631,401 L631,422 Q631,425.4 628,425.4 L624.6,425.4" stroke-width="0.96"/>
<path d="M631.9,410.9 L638,405.5 Q641.5,402.6 645,402.9 Q652,404 652.4,412 L652.4,424 L651.3,428 L635.9,442.6 L626.1,440.6 L625,436.5 L625,434.9 L631.9,429 Z" stroke-width="1.32" fill="#fff"/>
<path d="M637.6,412 Q637.6,404.8 644,403.4 Q652,403.6 652.3,412 L652.3,420 Q652,425 646,425.1 L640,425.1 Q637.6,425 637.6,421 Z" stroke-width="1.20"/>
<line x1="639.3" y1="416.6" x2="650.7" y2="410.3" stroke-width="0.84"/>
<line x1="641.6" y1="423.6" x2="651.9" y2="414.5" stroke-width="0.84"/>
<line x1="637.6" y1="425.1" x2="625.0" y2="434.9" stroke-width="1.08"/>
<path d="M627,436.4 L638.6,427 L651.2,426.2" stroke-width="0.72"/>
<path d="M633.5,409.5 L639,405" stroke-width="0.60"/>
<line x1="454.6" y1="326.5" x2="454.6" y2="394.0"/>
<line x1="454.7" y1="396" x2="454.7" y2="456.8" stroke="#666" stroke-width="0.9"/>
<line x1="452.4" y1="423.5" x2="452.4" y2="487.4"/>
<line x1="479.7" y1="340.9" x2="479.7" y2="487.4"/>
<line x1="490.2" y1="326.5" x2="490.2" y2="359.0"/>
<line x1="490.2" y1="446.0" x2="490.2" y2="488.6"/>
<line x1="421.2" y1="412.0" x2="421.2" y2="487.4"/>
<line x1="631.0" y1="326.4" x2="631.0" y2="394.6"/>
<line x1="448.9" y1="330.0" x2="455.0" y2="330.0"/>
<line x1="454.5" y1="330.0" x2="490.2" y2="330.0"/>
<polygon class="ah" points="454.5,330.0 462.3,328.2 462.3,331.8"/>
<polygon class="ah" points="490.2,330.0 482.4,331.8 482.4,328.2"/>
<polygon class="ah" points="490.2,330.0 498.0,328.2 498.0,331.8"/>
<line x1="490.2" y1="330.0" x2="530.0" y2="330.0"/>
<line x1="585.7" y1="330.0" x2="631.0" y2="330.0"/>
<polygon class="ah" points="631.0,330.0 623.2,331.8 623.2,328.2"/>
<line x1="448.9" y1="346.1" x2="479.7" y2="346.1"/>
<polygon class="ah" points="454.5,346.1 462.3,344.4 462.3,347.9"/>
<polygon class="ah" points="479.7,346.1 471.9,347.9 471.9,344.4"/>
<line x1="413.0" y1="452.9" x2="452.4" y2="452.9"/>
<polygon class="ah" points="452.4,452.9 445.4,454.5 445.4,451.3"/>
<line x1="454.9" y1="452.9" x2="469.6" y2="452.9"/>
<polygon class="ah" points="454.9,452.9 461.9,451.3 461.9,454.5"/>
<line x1="406.6" y1="484.4" x2="421.2" y2="484.4"/>
<polygon class="ah" points="421.2,484.4 413.4,486.1 413.4,482.6"/>
<line x1="452.4" y1="484.4" x2="479.7" y2="484.4"/>
<polygon class="ah" points="452.4,484.4 460.2,482.6 460.2,486.1"/>
<polygon class="ah" points="479.7,484.4 471.9,486.1 471.9,482.6"/>
<line x1="490.2" y1="484.4" x2="510.7" y2="484.4"/>
<polygon class="ah" points="490.2,484.4 498.0,482.6 498.0,486.1"/>
</g>
</svg>
</body></html>
